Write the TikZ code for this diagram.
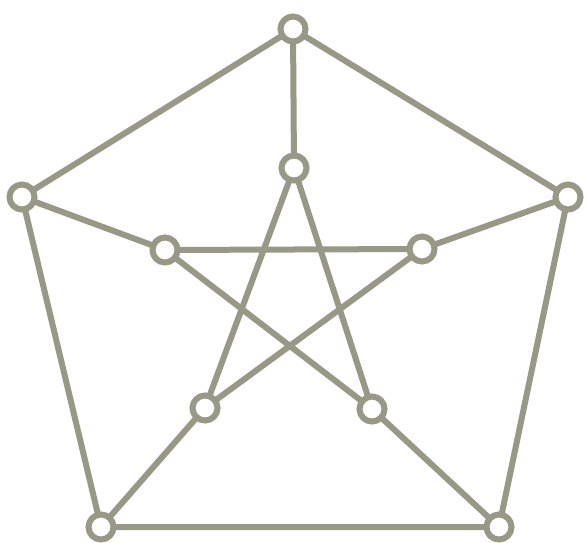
\documentclass[tikz,border=0pt]{standalone}
\definecolor{petgray}{RGB}{152,152,134}
\begin{document}
\begin{tikzpicture}[x=1pt,y=-1pt,
  vtx/.style={circle,draw=petgray,fill=white,line width=6pt,minimum size=25pt,inner sep=0pt},
  edge/.style={draw=petgray,line width=6pt}]
\useasboundingbox (0,0) rectangle (586,543);
\fill[white] (0,0) rectangle (586,543);
\coordinate (O1) at (293,29);
\coordinate (O2) at (22,197);
\coordinate (O3) at (568,197);
\coordinate (O4) at (101,527);
\coordinate (O5) at (499,527);
\coordinate (I1) at (294,168);
\coordinate (I2) at (165,250);
\coordinate (I3) at (422,249);
\coordinate (I4) at (205,408);
\coordinate (I5) at (372,409);
\path[edge] (O1) -- (O2) -- (O4) -- (O5) -- (O3) -- cycle;
\path[edge] (O1) -- (I1) (O2) -- (I2) (O3) -- (I3) (O4) -- (I4) (O5) -- (I5);
\path[edge] (I1) -- (I4) (I1) -- (I5) (I2) -- (I3) (I2) -- (I5) (I3) -- (I4);
\foreach \n in {O1,O2,O3,O4,O5,I1,I2,I3,I4,I5}
  \node[vtx] (v\n) at (\n) {};
\end{tikzpicture}
\end{document}
